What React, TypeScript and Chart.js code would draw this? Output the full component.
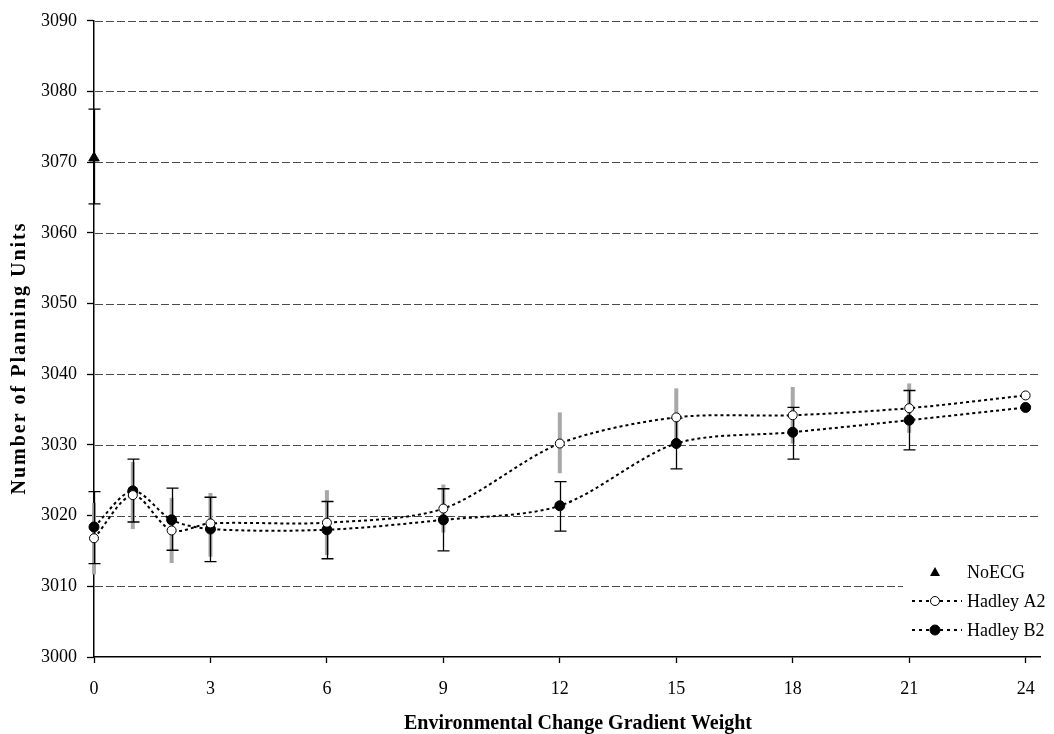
import { useEffect, useRef } from "react";
import { Chart, registerables } from "chart.js";

Chart.register(...registerables);

// ---- Data ----
const weights = [0, 1, 2, 3, 6, 9, 12, 15, 18, 21, 24];
const hadleyA2 = [3016.8, 3022.9, 3017.9, 3018.9, 3019.0, 3021.0, 3030.2, 3033.9, 3034.2, 3035.2, 3037.0];
const hadleyB2 = [3018.4, 3023.5, 3019.4, 3018.1, 3018.0, 3019.4, 3021.4, 3030.2, 3031.8, 3033.5, 3035.3];
const a2Low = [3011.7, 3018.1, 3013.3, 3014.2, 3014.4, 3017.6, 3026.0, 3029.8, 3030.2, 3031.7, null];
const a2High = [3021.8, 3027.6, 3022.5, 3023.2, 3023.6, 3024.4, 3034.6, 3038.0, 3038.2, 3038.7, null];
const b2Low = [3013.2, 3019.1, 3015.1, 3013.5, 3013.9, 3015.0, 3017.8, 3026.6, 3028.0, 3029.3, null];
const b2High = [3023.4, 3028.0, 3023.9, 3022.6, 3022.0, 3023.8, 3024.8, 3033.8, 3035.3, 3037.7, null];
const noEcgX = [0];
const noEcgY = [3070.6];
const noEcgLow = [3064.1];
const noEcgHigh = [3077.5];

const yTickValues = [3000, 3010, 3020, 3030, 3040, 3050, 3060, 3070, 3080, 3090];
const xTickValues = [0, 3, 6, 9, 12, 15, 18, 21, 24];
const seriesLabels = ["NoECG", "Hadley A2", "Hadley B2"];
const xTitle = "Environmental Change Gradient Weight";
const yTitle = "Number of Planning Units";

const FONT = '"Liberation Serif", "Times New Roman", Times, serif';

const overlay = {
  id: "overlay",
  beforeDatasetsDraw(chart: any) {
    const { ctx, chartArea: ca } = chart;
    const x = chart.scales.x;
    const y = chart.scales.y;
    ctx.save();
    // dashed gridlines
    ctx.strokeStyle = "#4a4a4a";
    ctx.lineWidth = 1;
    ctx.setLineDash([8, 3]);
    yTickValues.forEach((v, i) => {
      if (i === 0) return;
      const py = Math.round(y.getPixelForValue(v)) + 0.5;
      ctx.beginPath();
      ctx.moveTo(ca.left + 1, py);
      ctx.lineTo(ca.right, py);
      ctx.stroke();
    });
    ctx.setLineDash([]);
    // gray A2 error bars
    ctx.strokeStyle = "#a8a8a8";
    ctx.lineWidth = 4;
    weights.forEach((w, i) => {
      const lo = a2Low[i];
      const hi = a2High[i];
      if (lo == null || hi == null) return;
      const px = x.getPixelForValue(w);
      ctx.beginPath();
      ctx.moveTo(px, y.getPixelForValue(lo));
      ctx.lineTo(px, y.getPixelForValue(hi));
      ctx.stroke();
    });
    // black error bars with caps
    const bar = (w: number, lo: number, hi: number) => {
      const px = Math.round(x.getPixelForValue(w)) + 0.5;
      const pl = y.getPixelForValue(lo);
      const ph = y.getPixelForValue(hi);
      ctx.strokeStyle = "#000";
      ctx.lineWidth = 1.3;
      ctx.beginPath();
      ctx.moveTo(px, pl);
      ctx.lineTo(px, ph);
      ctx.moveTo(px - 6, pl);
      ctx.lineTo(px + 6, pl);
      ctx.moveTo(px - 6, ph);
      ctx.lineTo(px + 6, ph);
      ctx.stroke();
    };
    weights.forEach((w, i) => {
      const lo = b2Low[i];
      const hi = b2High[i];
      if (lo == null || hi == null) return;
      bar(w, lo, hi);
    });
    noEcgX.forEach((w, i) => bar(w, noEcgLow[i], noEcgHigh[i]));
    ctx.restore();
  },
  afterDatasetsDraw(chart: any) {
    const { ctx } = chart;
    ctx.save();
    // legend box
    ctx.fillStyle = "#fff";
    ctx.fillRect(903, 556, 136, 94);
    const rows = [572, 601, 630];
    const mx = 935;
    ctx.font = `18px ${FONT}`;
    ctx.textBaseline = "middle";
    ctx.textAlign = "left";
    rows.forEach((ry, i) => {
      if (i > 0) {
        ctx.strokeStyle = "#000";
        ctx.lineWidth = 2;
        ctx.setLineDash([3, 4]);
        ctx.beginPath();
        ctx.moveTo(912, ry);
        ctx.lineTo(962, ry);
        ctx.stroke();
        ctx.setLineDash([]);
      }
      if (i === 0) {
        ctx.fillStyle = "#000";
        ctx.beginPath();
        ctx.moveTo(mx, ry - 5);
        ctx.lineTo(mx + 5, ry + 4);
        ctx.lineTo(mx - 5, ry + 4);
        ctx.closePath();
        ctx.fill();
      } else {
        ctx.beginPath();
        ctx.arc(mx, ry, i === 1 ? 4.5 : 5, 0, Math.PI * 2);
        ctx.fillStyle = i === 1 ? "#fff" : "#000";
        ctx.fill();
        ctx.strokeStyle = "#000";
        ctx.lineWidth = 1;
        ctx.stroke();
      }
      ctx.fillStyle = "#000";
      ctx.fillText(chart.data.datasets[i].label, 967, ry + 1);
    });
    ctx.restore();
  },
  afterDraw(chart: any) {
    const { ctx } = chart;
    ctx.save();
    ctx.fillStyle = "#000";
    ctx.font = `bold 20px ${FONT}`;
    ctx.textAlign = "center";
    ctx.textBaseline = "alphabetic";
    ctx.fillText(xTitle, 578, 729);
    ctx.translate(25, 358);
    ctx.rotate(-Math.PI / 2);
    try {
      (ctx as any).letterSpacing = "2px";
    } catch (e) {}
    ctx.fillText(yTitle, 0, 0);
    ctx.restore();
  },
};

export default function App() {
  const ref = useRef<HTMLCanvasElement | null>(null);
  useEffect(() => {
    if (!ref.current) return;
    const chart = new Chart(ref.current, {
      type: "scatter",
      data: {
        datasets: [
          {
            label: seriesLabels[0],
            data: noEcgX.map((x, i) => ({ x, y: noEcgY[i] })),
            showLine: false,
            clip: false,
            pointStyle: "triangle",
            pointRadius: 6,
            backgroundColor: "#000",
            borderColor: "#000",
            borderWidth: 1,
          },
          {
            label: seriesLabels[1],
            data: weights.map((x, i) => ({ x, y: hadleyA2[i] })),
            showLine: true,
            clip: false,
            tension: 0.3,
            borderColor: "#000",
            borderWidth: 2,
            borderDash: [3, 3],
            pointStyle: "circle",
            pointRadius: 4.5,
            pointBackgroundColor: "#fff",
            pointBorderColor: "#000",
            pointBorderWidth: 1,
          },
          {
            label: seriesLabels[2],
            data: weights.map((x, i) => ({ x, y: hadleyB2[i] })),
            showLine: true,
            clip: false,
            tension: 0.3,
            borderColor: "#000",
            borderWidth: 2,
            borderDash: [3, 3],
            pointStyle: "circle",
            pointRadius: 5,
            pointBackgroundColor: "#000",
            pointBorderColor: "#000",
            pointBorderWidth: 1,
          },
        ],
      },
      options: {
        animation: false,
        responsive: true,
        maintainAspectRatio: false,
        layout: { padding: { top: 15, right: 14, bottom: 0, left: 0 } },
        plugins: { legend: { display: false }, tooltip: { enabled: false } },
        scales: {
          x: {
            type: "linear",
            min: 0,
            max: 24.37,
            afterFit: (s: any) => {
              s.height = 77;
            },
            afterBuildTicks: (s: any) => {
              s.ticks = xTickValues.map((v) => ({ value: v }));
            },
            ticks: {
              font: { family: FONT, size: 18 },
              color: "#000",
              padding: 15,
              maxRotation: 0,
              callback: (v: any) => String(v),
            },
            grid: {
              drawOnChartArea: false,
              drawTicks: true,
              tickLength: 6,
              tickColor: "#000",
              tickWidth: 1.3,
            },
            border: { display: true, color: "#000", width: 1.5 },
          },
          y: {
            type: "linear",
            min: 3000,
            max: 3090,
            afterFit: (s: any) => {
              s.width = 94;
            },
            afterBuildTicks: (s: any) => {
              s.ticks = yTickValues.map((v) => ({ value: v }));
            },
            ticks: {
              font: { family: FONT, size: 18 },
              color: "#000",
              padding: 10,
              callback: (v: any) => String(v),
            },
            grid: {
              drawOnChartArea: false,
              drawTicks: true,
              tickLength: 7,
              tickColor: "#000",
              tickWidth: 1.3,
            },
            border: { display: true, color: "#000", width: 1.5 },
          },
        },
      },
      plugins: [overlay],
    });
    return () => chart.destroy();
  }, []);
  return (
    <div style={{ position: "fixed", left: 0, top: 0, width: 1054, height: 734, background: "#fff" }}>
      <canvas ref={ref} />
    </div>
  );
}
